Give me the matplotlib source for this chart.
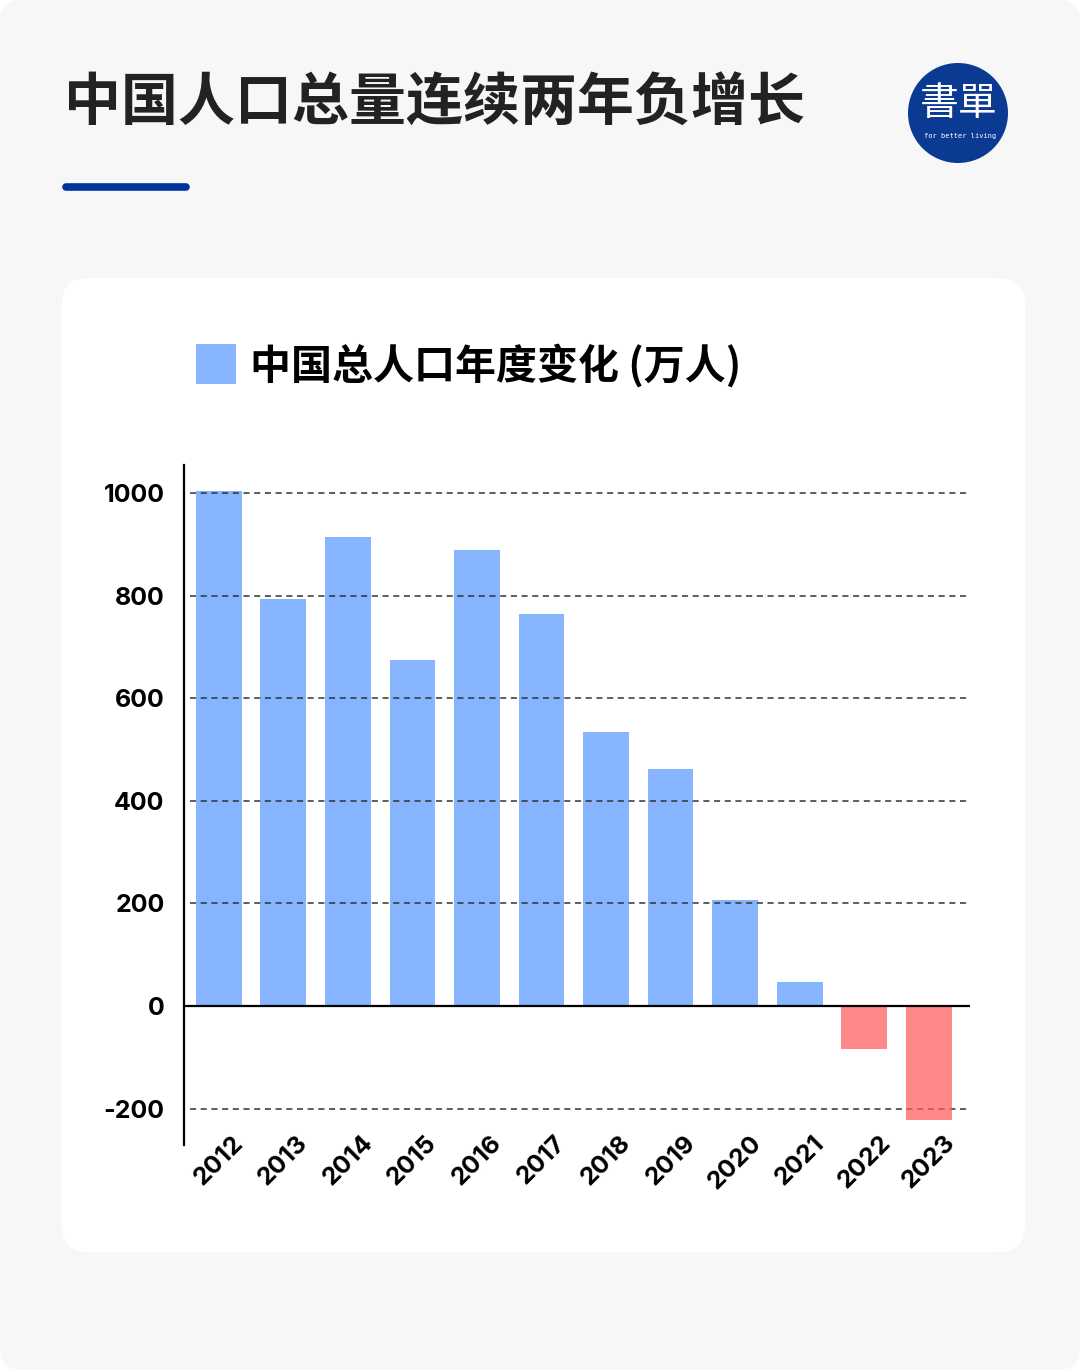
import matplotlib
matplotlib.use('Agg')
import matplotlib.pyplot as plt
from matplotlib.patches import FancyBboxPatch, Circle, Rectangle
import numpy as np

plt.rcParams['font.family'] = ['Noto Sans CJK SC', 'DejaVu Sans']

# data
years = ['2012', '2013', '2014', '2015', '2016', '2017',
         '2018', '2019', '2020', '2021', '2022', '2023']
change = [1004, 793, 914, 674, 889, 764, 534, 462, 207, 47, -84, -222]
yticks = [-200, 0, 200, 400, 600, 800, 1000]

title = '中国人口总量连续两年负增长'
legend_label = '中国总人口年度变化 (万人)'

W, H = 1080, 1370
fig = plt.figure(figsize=(W / 100, H / 100), dpi=100)
fig.patch.set_facecolor('white')

# background layer in pixel coordinates
bg = fig.add_axes([0, 0, 1, 1])
bg.set_xlim(0, W)
bg.set_ylim(H, 0)
bg.axis('off')
bg.add_patch(FancyBboxPatch((0, 0), W, H, boxstyle='round,pad=0,rounding_size=22',
                            fc='#f7f7f7', ec='none'))
bg.add_patch(FancyBboxPatch((62, 278), 963, 974, boxstyle='round,pad=0,rounding_size=26',
                            fc='white', ec='none'))
bg.text(64, 104, title, fontsize=41, fontweight='bold', color='#222222',
        ha='left', va='center')
bg.plot([66, 186], [187, 187], color='#0033a0', lw=5.5, solid_capstyle='round')

# logo
bg.add_patch(Circle((958, 113), 50, fc='#0b3a92', ec='none'))
bg.text(959, 104, '書單', family=['Noto Sans CJK TC', 'DejaVu Sans'], fontsize=28,
        fontweight='light', color='white', ha='center', va='center')
bg.text(960, 136, 'for better living', family='DejaVu Sans Mono', fontsize=5,
        color='white', ha='center', va='center')

# legend
bg.add_patch(Rectangle((196, 344), 40, 40, fc='#86b4ff', ec='none'))
bg.text(250, 366, legend_label, fontsize=29.5, fontweight='bold', color='black',
        ha='left', va='center')

# chart
ax = fig.add_axes([184 / W, 1 - 1145 / H, (970 - 184) / W, (1145 - 465) / H])
ax.set_facecolor('none')
x = np.arange(len(years))
pos = [v if v >= 0 else 0 for v in change]
neg = [v if v < 0 else 0 for v in change]
ax.bar(x, pos, width=0.71, color='#86b4ff', zorder=2)
ax.bar(x, neg, width=0.71, color='#ff5c5c', alpha=0.72, zorder=4)

for t in yticks:
    if t == 0:
        continue
    ax.axhline(t, xmin=0.008, color='#333333', lw=1.1, ls=(0, (4, 3)), zorder=3)
ax.axhline(0, color='black', lw=1.6, zorder=5)

ax.set_xlim(-0.54, 11.64)
ax.set_ylim(-271, 1055)
ax.set_yticks(yticks)
ax.set_yticklabels([str(t) for t in yticks], family=['Inter', 'DejaVu Sans'],
                   fontsize=18, fontweight='bold')
ax.set_xticks(x)
ax.set_xticklabels(years, family=['Inter', 'DejaVu Sans'], fontsize=18,
                   fontweight='bold', rotation=45, ha='center', va='top')
ax.tick_params(axis='y', length=0, pad=14)
ax.tick_params(axis='x', length=0, pad=-10)
for s in ['top', 'right', 'bottom']:
    ax.spines[s].set_visible(False)
ax.spines['left'].set_linewidth(1.6)

fig.savefig('out.png', dpi=100)
